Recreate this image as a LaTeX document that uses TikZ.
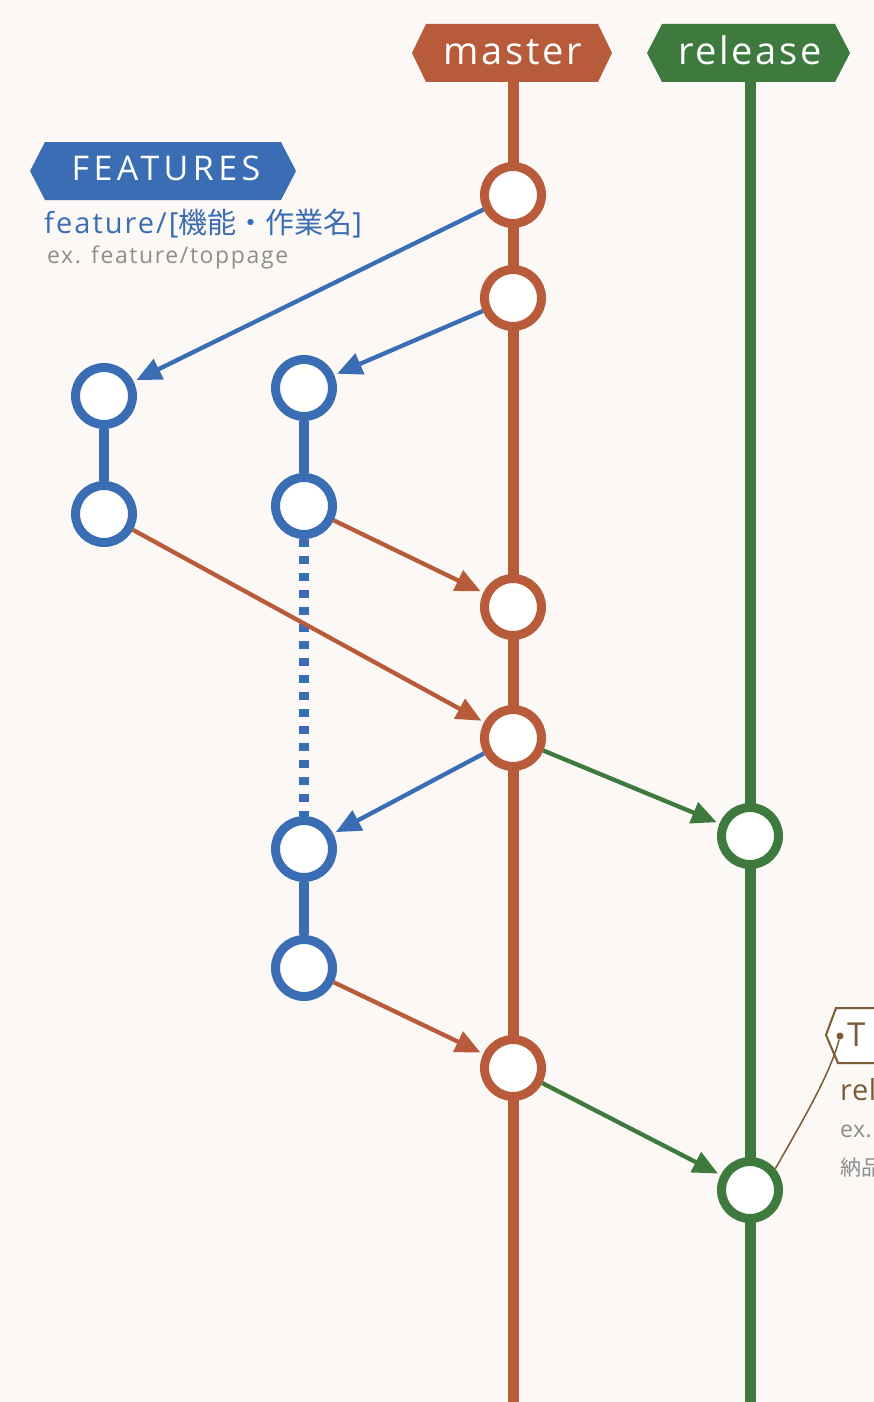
\documentclass[tikz,border=0pt]{standalone}
\usepackage{fontspec}
\setmainfont{Open Sans}[LetterSpace=7]
\newfontfamily\plainfont{Open Sans}[LetterSpace=2]
\newfontfamily\jp{Noto Sans CJK JP}
\newfontfamily\widefont{Open Sans}[LetterSpace=13]
\usetikzlibrary{arrows.meta,backgrounds}
\definecolor{bg}{HTML}{FBF8F5}
\definecolor{mcol}{HTML}{B85B3B}
\definecolor{rcol}{HTML}{3E7A3D}
\definecolor{fcol}{HTML}{3A6DB4}
\definecolor{gtxt}{HTML}{8E8E8E}
\definecolor{tcol}{HTML}{7A5B35}
\begin{document}
\begin{tikzpicture}[x=1pt,y=-1pt,
  commit/.style={circle, line width=9pt, fill=white, minimum size=57pt, inner sep=0pt},
  mc/.style={commit, draw=mcol},
  rc/.style={commit, draw=rcol},
  fc/.style={commit, draw=fcol},
  tagtext/.style={text=white, inner sep=0pt, anchor=base},
  branchline/.style={line width=11pt},
  featline/.style={line width=10pt, draw=fcol},
  featdots/.style={line width=10pt, draw=fcol, dash pattern=on 8pt off 9pt},
  arr/.style={line width=4.3pt, -{Triangle[length=25pt,width=22pt]}, shorten >=3pt},
  txt/.style={inner sep=0pt, anchor=base west}
]
\useasboundingbox (0,0) rectangle (874,1402);
\clip (0,0) rectangle (874,1402);

% branch label texts
\node[tagtext, font=\fontsize{38}{38}\selectfont] (mtag) at (513,65) {master};
\node[tagtext, font=\fontsize{38}{38}\selectfont] (rtag) at (750,65) {release};
\node[tagtext, font=\widefont\fontsize{34}{34}\selectfont] (ftag) at (166,180) {FEATURES};
\node[txt, text=fcol, font=\fontsize{29}{29}\selectfont] (fname) at (44,233) {feature/[{\jp 機能・作業名}]};
\node[txt, text=gtxt, font=\fontsize{23}{23}\selectfont] (fex) at (47,263) {ex. feature/toppage};

\coordinate (mtop) at (513,82);
\coordinate (mbot) at (513,1402);
\coordinate (rtop) at (750,82);
\coordinate (rbot) at (750,1402);

% commits
\node[mc] (m1) at (513,195) {};
\node[mc] (m2) at (513,298) {};
\node[mc] (m3) at (513,607) {};
\node[mc] (m4) at (513,738) {};
\node[mc] (m5) at (513,1068) {};
\node[rc] (r1) at (750,836) {};
\node[rc] (r2) at (750,1190) {};
\node[fc] (f1a) at (104,396) {};
\node[fc] (f1b) at (104,514) {};
\node[fc] (f2a) at (304,388) {};
\node[fc] (f2b) at (304,506) {};
\node[fc] (f3a) at (304,849) {};
\node[fc] (f3b) at (304,968) {};

% arrows
\draw[arr, draw=fcol, fill=fcol] (m1) -- (f1a);
\draw[arr, draw=fcol, fill=fcol] (m2) -- (f2a);
\draw[arr, draw=fcol, fill=fcol] (m4) -- (f3a);
\draw[arr, draw=mcol, fill=mcol] (f2b) -- (m3);
\draw[arr, draw=mcol, fill=mcol] (f1b) -- (m4);
\draw[arr, draw=mcol, fill=mcol] (f3b) -- (m5);
\draw[arr, draw=rcol, fill=rcol] (m4) -- (r1);
\draw[arr, draw=rcol, fill=rcol] (m5) -- (r2);

% partially visible tag at the right
\filldraw[draw=tcol, fill=white, line width=2pt] (880,1008) -- (836,1008) -- (826,1035) -- (838,1063) -- (880,1063);
\node[txt, text=tcol, font=\plainfont\fontsize{33}{33}\selectfont] (ttag) at (847,1046) {T};
\node[circle, fill=tcol, inner sep=0pt, minimum size=7pt] (tdot) at (840,1036) {};
\draw[tcol, line width=1.5pt] (r2.40) .. controls (800,1125) and (830,1075) .. (tdot);
\node[txt, text=tcol, font=\plainfont\fontsize{29}{29}\selectfont] (trel) at (840,1100) {rel};
\node[txt, text=gtxt, font=\plainfont\fontsize{23}{23}\selectfont] (tex) at (840,1137) {ex.};
\node[txt, text=gtxt, font=\jp\fontsize{21}{21}\selectfont] (tnou) at (840,1175) {納品};

\begin{scope}[on background layer]
  \fill[bg] (0,0) rectangle (874,1402);
  \draw[branchline, draw=mcol] (mtop) -- (mbot);
  \draw[branchline, draw=rcol] (rtop) -- (rbot);
  \draw[featline] (f1a) -- (f1b);
  \draw[featline] (f2a) -- (f2b);
  \draw[featline] (f3a) -- (f3b);
  \draw[featdots] (f2b) -- (f3a);
  \fill[mcol] (412,53) -- (426,24) -- (598,24) -- (612,53) -- (598,82) -- (426,82) -- cycle;
  \fill[rcol] (647,53) -- (662,24) -- (835,24) -- (850,53) -- (835,82) -- (662,82) -- cycle;
  \fill[fcol] (30,171) -- (45,142) -- (281,142) -- (296,171) -- (281,200) -- (45,200) -- cycle;
\end{scope}
\end{tikzpicture}
\end{document}
